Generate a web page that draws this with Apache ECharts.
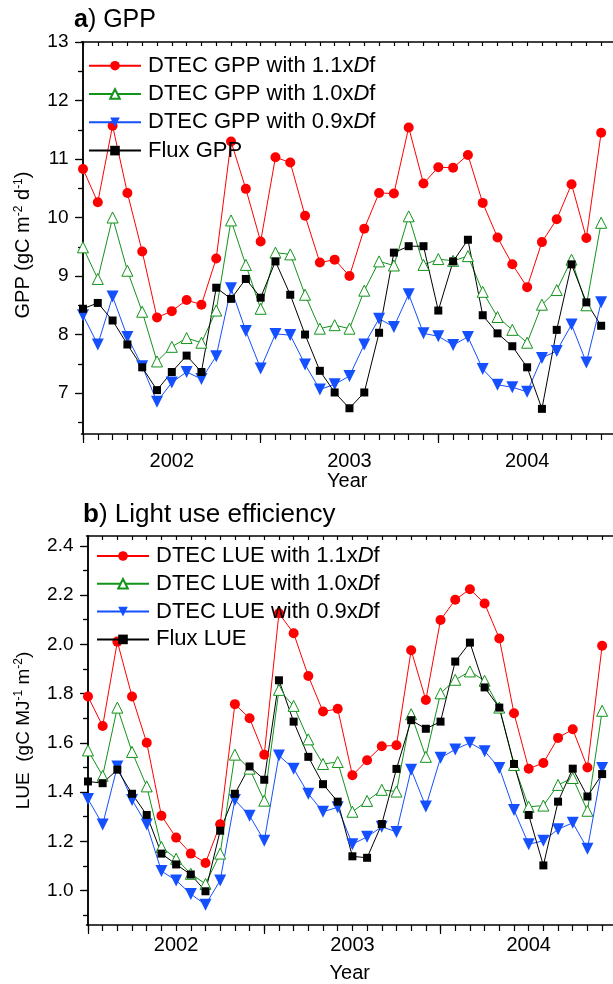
<!DOCTYPE html>
<html>
<head>
<meta charset="utf-8">
<script src="https://cdn.jsdelivr.net/npm/echarts@6/dist/echarts.min.js"></script>
<style>
  html, body { margin: 0; padding: 0; background: #fff; }
  #main { width: 613px; height: 984px; }
</style>
</head>
<body>
<div id="main"></div>
<script>
// month index 0 = Jan 2002 ... 35 = Dec 2004
const monthIndex = [0, 1, 2, 3, 4, 5, 6, 7, 8, 9, 10, 11, 12, 13, 14, 15, 16, 17,
  18, 19, 20, 21, 22, 23, 24, 25, 26, 27, 28, 29, 30, 31, 32, 33, 34, 35];
const yearStarts = [0, 12, 24];
const yearLabelPos = [6, 18, 30];
const yearLabels = ['2002', '2003', '2004'];

// a) GPP (gC m-2 d-1)
const gppDf11 = [10.83, 10.26, 11.57, 10.42, 9.42, 8.29, 8.40, 8.59, 8.51, 9.30, 11.30, 10.49,
  9.59, 11.03, 10.94, 10.03, 9.23, 9.28, 9.00, 9.81, 10.42, 10.41, 11.54, 10.58,
  10.86, 10.85, 11.07, 10.25, 9.66, 9.20, 8.81, 9.58, 9.97, 10.57, 9.65, 11.45];
const gppDf10 = [9.49, 8.95, 10.00, 9.09, 8.39, 7.54, 7.79, 7.94, 7.86, 8.41, 9.95, 9.19,
  8.44, 9.40, 9.37, 8.68, 8.10, 8.16, 8.10, 8.75, 9.25, 9.18, 10.02, 9.19,
  9.29, 9.26, 9.34, 8.73, 8.30, 8.08, 7.86, 8.51, 8.76, 9.28, 8.50, 9.91];
const gppDf09 = [8.33, 7.83, 8.65, 7.96, 7.46, 6.85, 7.18, 7.36, 7.24, 7.63, 8.79, 8.06,
  7.42, 8.01, 7.99, 7.49, 7.06, 7.15, 7.29, 7.83, 8.27, 8.13, 8.69, 8.02,
  7.97, 7.82, 7.96, 7.41, 7.14, 7.10, 7.02, 7.60, 7.72, 8.17, 7.52, 8.55];
const gppFlux = [8.44, 8.54, 8.24, 7.83, 7.44, 7.05, 7.36, 7.64, 7.36, 8.80, 8.61, 8.95,
  8.63, 9.25, 8.68, 8.00, 7.38, 7.01, 6.74, 7.01, 8.03, 9.40, 9.51, 9.51,
  8.41, 9.25, 9.62, 8.33, 8.02, 7.80, 7.44, 6.73, 8.08, 9.20, 8.55, 8.15];

// b) LUE (gC MJ-1 m-2)
const lueDf11 = [1.788, 1.668, 2.011, 1.788, 1.600, 1.304, 1.215, 1.150, 1.112, 1.269, 1.757, 1.700,
  1.552, 2.126, 2.045, 1.871, 1.727, 1.738, 1.468, 1.529, 1.586, 1.590, 1.976, 1.774,
  2.099, 2.181, 2.224, 2.166, 2.024, 1.720, 1.495, 1.518, 1.620, 1.655, 1.500, 1.994];
const lueDf10 = [1.569, 1.466, 1.743, 1.563, 1.423, 1.177, 1.129, 1.068, 1.027, 1.150, 1.552, 1.495,
  1.365, 1.815, 1.750, 1.614, 1.514, 1.522, 1.320, 1.364, 1.409, 1.402, 1.716, 1.543,
  1.801, 1.856, 1.890, 1.852, 1.743, 1.510, 1.340, 1.345, 1.429, 1.457, 1.324, 1.730];
const lueDf09 = [1.372, 1.268, 1.504, 1.368, 1.268, 1.079, 1.041, 0.986, 0.942, 1.041, 1.368, 1.304,
  1.202, 1.548, 1.495, 1.393, 1.320, 1.338, 1.188, 1.218, 1.259, 1.238, 1.491, 1.341,
  1.539, 1.573, 1.600, 1.566, 1.498, 1.327, 1.188, 1.202, 1.249, 1.275, 1.170, 1.498];
const lueFlux = [1.443, 1.436, 1.491, 1.393, 1.307, 1.150, 1.106, 1.065, 0.997, 1.243, 1.393, 1.504,
  1.450, 1.854, 1.686, 1.543, 1.432, 1.361, 1.139, 1.133, 1.270, 1.494, 1.692, 1.657,
  1.686, 1.930, 2.007, 1.825, 1.743, 1.514, 1.307, 1.102, 1.361, 1.495, 1.382, 1.473];

const gppMajor = [7, 8, 9, 10, 11, 12, 13];
const gppMinor = [6.5, 7.5, 8.5, 9.5, 10.5, 11.5, 12.5];
const lueMajor = [1.0, 1.2, 1.4, 1.6, 1.8, 2.0, 2.2, 2.4];
const lueMinor = [0.9, 1.1, 1.3, 1.5, 1.7, 1.9, 2.1, 2.3];

const font = 'Liberation Sans, Arial, sans-serif';
const RED = '#ff0000', GREEN = '#12931a', BLUE = '#1550ff', BLACK = '#000';

function toPoints (vals) {
  return vals.map((v, i) => [monthIndex[i], v]);
}

// 4 x axes per panel: minor ticks, year ticks, year labels, top frame
function makeXAxes (grid, xMin, xMax, labelMargin, nameGap) {
  const base = { type: 'value', gridIndex: grid, min: xMin, max: xMax, splitLine: { show: false } };
  const line = { lineStyle: { color: '#000', width: 1.5 } };
  const tick = { color: '#000', width: 1.2 };
  return [
    Object.assign({}, base, { position: 'bottom', axisLine: line,
      axisTick: { customValues: monthIndex, length: 6, lineStyle: tick }, axisLabel: { show: false } }),
    Object.assign({}, base, { position: 'bottom', axisLine: { show: false },
      axisTick: { customValues: yearStarts, length: 9, lineStyle: tick }, axisLabel: { show: false } }),
    Object.assign({}, base, { position: 'bottom', axisLine: { show: false }, axisTick: { show: false },
      axisLabel: { customValues: yearLabelPos, margin: labelMargin, fontSize: 20, fontFamily: font, color: '#000',
        formatter: v => yearLabels[yearLabelPos.indexOf(v)] },
      name: 'Year', nameLocation: 'middle', nameGap: nameGap,
      nameTextStyle: { fontSize: 20, fontFamily: font, color: '#000' } }),
    Object.assign({}, base, { position: 'top', axisLine: line,
      axisTick: { customValues: monthIndex, inside: true, length: 4, lineStyle: tick }, axisLabel: { show: false } })
  ];
}

// 4 y axes per panel: left major + labels, left minor, right major, right minor
function makeYAxes (grid, yMin, yMax, major, minor, digits, name, nameGap, nameSize, namePad) {
  const base = { type: 'value', gridIndex: grid, min: yMin, max: yMax, splitLine: { show: false } };
  const line = { lineStyle: { color: '#000', width: 1.5 } };
  const tick = { color: '#000', width: 1.2 };
  return [
    Object.assign({}, base, { position: 'left', axisLine: line,
      axisTick: { customValues: major, length: 8, lineStyle: tick },
      axisLabel: { customValues: major, margin: 13, fontSize: 19, fontFamily: font, color: '#000',
        formatter: v => v.toFixed(digits) },
      name: name, nameLocation: 'middle', nameGap: nameGap, nameRotate: 90,
      nameTextStyle: { fontSize: nameSize, fontFamily: font, color: '#000', padding: namePad,
        rich: { s: { fontSize: 12, fontFamily: font, verticalAlign: 'top', lineHeight: 22 } } } }),
    Object.assign({}, base, { position: 'left', axisLine: { show: false },
      axisTick: { customValues: minor, length: 5, lineStyle: tick }, axisLabel: { show: false } }),
    Object.assign({}, base, { position: 'right', axisLine: line,
      axisTick: { customValues: major, inside: true, length: 7, lineStyle: tick }, axisLabel: { show: false } }),
    Object.assign({}, base, { position: 'right', axisLine: { show: false },
      axisTick: { customValues: minor, inside: true, length: 4, lineStyle: tick }, axisLabel: { show: false } })
  ];
}

function makeSeries (name, vals, kind, xIdx, yIdx) {
  const s = {
    name: name, type: 'line', xAxisIndex: xIdx, yAxisIndex: yIdx,
    data: toPoints(vals), lineStyle: { width: 1 }, emphasis: { disabled: true }
  };
  if (kind === 'red') {
    Object.assign(s, { symbol: 'circle', symbolSize: 10, color: RED, lineStyle: { width: 1, color: RED } });
  } else if (kind === 'green') {
    Object.assign(s, { symbol: 'triangle', symbolSize: 11, color: GREEN,
      lineStyle: { width: 1, color: GREEN },
      itemStyle: { color: '#fff', borderColor: GREEN, borderWidth: 1 } });
  } else if (kind === 'blue') {
    Object.assign(s, { symbol: 'triangle', symbolRotate: 180, symbolSize: 12, color: BLUE,
      lineStyle: { width: 1, color: BLUE } });
  } else {
    Object.assign(s, { symbol: 'rect', symbolSize: 8, color: BLACK, lineStyle: { width: 1, color: BLACK } });
  }
  return s;
}

const legendText = {
  fontSize: 22, lineHeight: 22, fontFamily: font, color: '#000', padding: [0, 0, 0, 2],
  rich: { i: { fontSize: 22, fontFamily: font, fontStyle: 'italic', color: '#000' } }
};
const legendFmt = name => name.replace('xDf', 'x{i|D}f');

const gppNames = ['DTEC GPP with 1.1xDf', 'DTEC GPP with 1.0xDf', 'DTEC GPP with 0.9xDf', 'Flux GPP'];
const lueNames = ['DTEC LUE with 1.1xDf', 'DTEC LUE with 1.0xDf', 'DTEC LUE with 0.9xDf', 'Flux LUE'];

const chart = echarts.init(document.getElementById('main'));
chart.setOption({
  animation: false,
  backgroundColor: '#fff',
  title: [
    { text: '{b|a}) GPP', left: 74, top: 8, padding: 0,
      textStyle: { fontSize: 25, fontWeight: 'normal', fontFamily: font, color: '#000',
        rich: { b: { fontSize: 25, fontWeight: 'bold', fontFamily: font, color: '#000' } } } },
    { text: '{b|b}) Light use efficiency', left: 83, top: 502, padding: 0,
      textStyle: { fontSize: 26, fontWeight: 'normal', fontFamily: font, color: '#000',
        rich: { b: { fontSize: 26, fontWeight: 'bold', fontFamily: font, color: '#000' } } } }
  ],
  legend: [
    { data: gppNames, orient: 'vertical', left: 88, top: 54.7, padding: 0, itemWidth: 52, itemHeight: 12, itemGap: 6.3,
      textStyle: legendText, formatter: legendFmt, selectedMode: false },
    { data: lueNames, orient: 'vertical', left: 96, top: 545, padding: 0, itemWidth: 52, itemHeight: 12, itemGap: 5.8,
      textStyle: legendText, formatter: legendFmt, selectedMode: false }
  ],
  grid: [
    { left: 81.5, top: 42, right: 0, height: 392, outerBoundsMode: 'none' },
    { left: 86.5, top: 536, right: 0, height: 389, outerBoundsMode: 'none' }
  ],
  xAxis: makeXAxes(0, -0.1, 35.8, 17, 36).concat(makeXAxes(1, -0.1, 35.74, 10, 38)),
  yAxis: makeYAxes(0, 6.3, 13, gppMajor, gppMinor, 0, 'GPP (gC m{s|-2} d{s|-1})', 47, 20, [0, 14, 0, 0])
    .concat(makeYAxes(1, 0.86, 2.44, lueMajor, lueMinor, 1, 'LUE  (gC MJ{s|-1} m{s|-2})', 52, 19, 0)),
  series: [
    makeSeries(gppNames[0], gppDf11, 'red', 0, 0),
    makeSeries(gppNames[1], gppDf10, 'green', 0, 0),
    makeSeries(gppNames[2], gppDf09, 'blue', 0, 0),
    makeSeries(gppNames[3], gppFlux, 'black', 0, 0),
    makeSeries(lueNames[0], lueDf11, 'red', 4, 4),
    makeSeries(lueNames[1], lueDf10, 'green', 4, 4),
    makeSeries(lueNames[2], lueDf09, 'blue', 4, 4),
    makeSeries(lueNames[3], lueFlux, 'black', 4, 4)
  ]
});
</script>
</body>
</html>
